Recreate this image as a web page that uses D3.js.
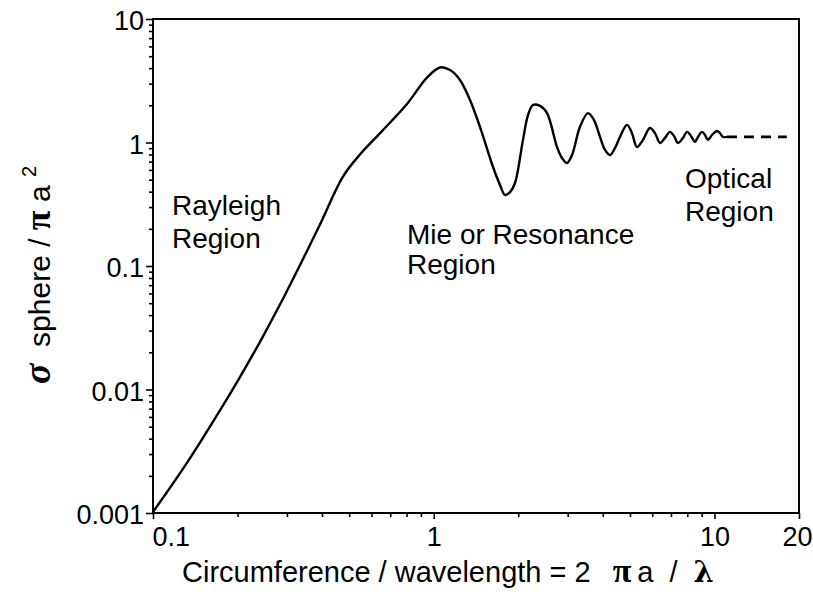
<!DOCTYPE html>
<html>
<head>
<meta charset="utf-8">
<script src="https://cdn.jsdelivr.net/npm/d3@7"></script>
<style>
  html, body { margin: 0; padding: 0; background: #fff; }
  svg { display: block; }
  text { font-family: "Liberation Sans", Arial, Helvetica, sans-serif; fill: #000; }
</style>
</head>
<body>
<svg id="chart" width="813" height="599"></svg>
<script>
// ---- data ----
const curveX = [0.100, 0.112, 0.128, 0.147, 0.173, 0.204, 0.240, 0.283, 0.334, 0.393,
  0.475, 0.546, 0.644, 0.803, 0.946, 1.053, 1.143, 1.240, 1.346, 1.461,
  1.626, 1.722, 1.794, 1.869, 1.947, 2.079, 2.167, 2.257, 2.390, 2.532,
  2.748, 2.863, 2.983, 3.108, 3.318, 3.543, 3.722, 3.910, 4.074, 4.245,
  4.422, 4.607, 4.879, 5.083, 5.296, 5.563, 5.892, 6.139, 6.396, 6.664,
  6.942, 7.174, 7.413, 7.723, 7.981, 8.248, 8.522, 8.735, 9.027, 9.252,
  9.480, 9.797, 10.21, 10.46, 10.72, 11.08];
const curveY = [0.00102, 0.00147, 0.00229, 0.00372, 0.00673, 0.0126, 0.0241, 0.0485, 0.102, 0.216,
  0.530, 0.800, 1.19, 2.05, 3.35, 4.05, 3.86, 3.21, 2.21, 1.34,
  0.633, 0.453, 0.376, 0.397, 0.470, 1.05, 1.67, 2.01, 1.98, 1.73,
  0.920, 0.749, 0.682, 0.792, 1.34, 1.73, 1.52, 1.11, 0.870, 0.792,
  0.903, 1.11, 1.39, 1.19, 0.920, 1.05, 1.31, 1.19, 0.991, 1.09,
  1.22, 1.13, 0.991, 1.09, 1.22, 1.13, 1.01, 1.11, 1.22, 1.15,
  1.05, 1.15, 1.24, 1.19, 1.11, 1.11];
const opticalX = [11.08, 18.1];
const opticalY = [1.11, 1.11];

const xTickValues = [0.1, 1, 10, 20];
const xTickLabels = ["0.1", "1", "10", "20"];
const xMinorTicks = [0.2, 0.3, 0.4, 0.5, 0.6, 0.7, 0.8, 0.9, 2, 3, 4, 5, 6, 7, 8, 9];
const yTickValues = [0.001, 0.01, 0.1, 1, 10];
const yTickLabels = ["0.001", "0.01", "0.1", "1", "10"];
const yMinorTicks = [2,3,4,5,6,7,8,9].flatMap(m => [0.001, 0.01, 0.1, 1].map(d => m * d));

const regionNames = [["Rayleigh", "Region"], ["Mie or Resonance", "Region"], ["Optical", "Region"]];

// ---- layout ----
const svg = d3.select("#chart");
const L = 153, R = 799, T = 19, B = 513;
const x = d3.scaleLog().domain([0.1, 20]).range([L, R]);
const y = d3.scaleLog().domain([0.001, 10]).range([B, T]);

// frame
svg.append("rect").attr("x", L).attr("y", T).attr("width", R - L).attr("height", B - T)
  .attr("fill", "none").attr("stroke", "#000").attr("stroke-width", 2);

// y axis
const yMajor = svg.append("g").attr("transform", `translate(${L},0)`)
  .call(d3.axisLeft(y).tickValues(yTickValues).tickSize(7).tickPadding(2)
    .tickFormat((d, i) => yTickLabels[i]));
const yMinor = svg.append("g").attr("transform", `translate(${L},0)`)
  .call(d3.axisLeft(y).tickValues(yMinorTicks).tickSize(4).tickFormat(""));
// x axis
const xMajor = svg.append("g").attr("transform", `translate(0,${B})`)
  .call(d3.axisBottom(x).tickValues(xTickValues).tickSize(6).tickPadding(8)
    .tickFormat((d, i) => xTickLabels[i]));
const xMinor = svg.append("g").attr("transform", `translate(0,${B})`)
  .call(d3.axisBottom(x).tickValues(xMinorTicks).tickSize(4).tickFormat(""));

[yMajor, yMinor, xMajor, xMinor].forEach(g => {
  g.select(".domain").remove();
  g.selectAll(".tick line").attr("stroke", "#000").attr("stroke-width", 1.6);
  g.selectAll("text").attr("font-family", "Liberation Sans, Arial, sans-serif")
    .attr("font-size", 27).attr("fill", "#000");
});
yMajor.selectAll("text").attr("dy", "0.40em");
xMajor.selectAll("text").attr("dy", "0.71em");
xMajor.selectAll(".tick").filter(d => d === 0.1).select("text")
  .attr("text-anchor", "start").attr("x", -1);
xMajor.selectAll(".tick").filter(d => d === 20).select("text")
  .attr("text-anchor", "end").attr("x", 13);

// curve
const pts = curveX.map((v, i) => [v, curveY[i]]);
const line = d3.line().x(d => x(d[0])).y(d => y(d[1])).curve(d3.curveCatmullRom.alpha(0.5));
svg.append("path").datum(pts).attr("d", line)
  .attr("fill", "none").attr("stroke", "#000").attr("stroke-width", 2.4)
  .attr("stroke-linejoin", "round");

const optPts = opticalX.map((v, i) => [v, opticalY[i]]);
svg.append("path").datum(optPts).attr("d", d3.line().x(d => x(d[0])).y(d => y(d[1])))
  .attr("fill", "none").attr("stroke", "#000").attr("stroke-width", 2.6)
  .attr("stroke-dasharray", "10,7");

// region labels
const labelPos = [[172, 215, 33], [407, 244, 30], [685, 188, 33]];
regionNames.forEach((lines, i) => {
  const [lx, ly, lh] = labelPos[i];
  const t = svg.append("text").attr("font-size", 28);
  lines.forEach((s, j) => t.append("tspan").attr("x", lx).attr("y", ly + j * lh).text(s));
});

// x axis title
const xt = svg.append("text").attr("x", 182).attr("y", 582).attr("font-size", 29);
xt.append("tspan").text("Circumference / wavelength = 2");
xt.append("tspan").attr("dx", 22).attr("font-family", "Liberation Serif, serif").attr("font-weight", "bold")
  .attr("font-size", 34).text("\u03c0");
xt.append("tspan").attr("dx", 6).text("a");
xt.append("tspan").attr("dx", 16).text("/");
xt.append("tspan").attr("dx", 16).attr("font-family", "DejaVu Serif, serif").attr("font-weight", "bold")
  .attr("font-size", 29).text("\u03bb");

// y axis title
const yt = svg.append("text").attr("transform", "translate(50,275) rotate(-90)")
  .attr("text-anchor", "middle").attr("font-size", 30);
yt.append("tspan").attr("font-family", "Liberation Serif, serif").attr("font-weight", "bold")
  .attr("font-style", "italic").attr("font-size", 38).text("\u03c3");
yt.append("tspan").text("\u00a0\u00a0sphere / ");
yt.append("tspan").attr("font-family", "Liberation Serif, serif").attr("font-weight", "bold")
  .attr("font-size", 36).text("\u03c0");
yt.append("tspan").text("\u00a0a\u00a0");
yt.append("tspan").attr("font-size", 20).attr("dy", -14).text("2");
</script>
</body>
</html>
